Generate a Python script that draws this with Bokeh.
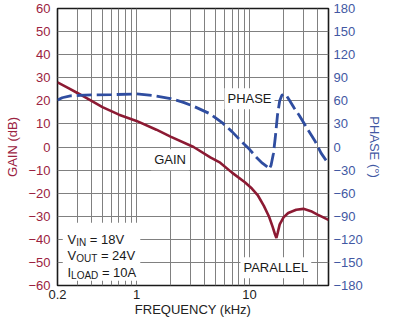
from bokeh.plotting import figure
from bokeh.models import (Range1d, LinearAxis, FixedTicker, CustomJSTickFormatter,
                          Label, BoxAnnotation)
from bokeh.embed import file_html
from bokeh.resources import INLINE

# ---- data ----
gain_freq = [0.2, 0.25, 0.3, 0.4, 0.5, 0.7, 1.0, 1.5, 2.0, 3.2, 4.5, 5.5, 7.0, 9.1, 10.5,
             11.8, 13.4, 14.9, 16.0, 16.8, 17.3, 17.8, 18.5, 20.0, 22.0, 25.9, 30.0, 35.0,
             40.0, 50.0]
gain_db = [28, 25.5, 23.4, 20, 17.3, 14, 11.3, 7.5, 4.5, 0, -4.5, -6.8, -11.1, -15.3, -18,
           -20.8, -25.5, -30.2, -34.5, -37.8, -39.4, -37, -33.5, -30.5, -28.6, -27.2, -26.8,
           -27.8, -29.3, -31.6]

phase_freq = [0.2, 0.22, 0.26, 0.35, 0.6, 1.0, 1.4, 2.0, 2.6, 3.2, 4.5, 5.8, 7.0, 8.5, 10.0,
              11.6, 13.0, 14.4, 14.9, 15.5, 16.3, 16.9, 17.7, 18.5, 19.3, 20.2, 21.2, 22.5,
              25.0, 27.6, 33.0, 38.2, 43.0, 50.0]
phase_deg = [61, 64, 66.5, 67.5, 68, 69, 67, 63, 58, 53, 43, 31, 20, 7, -3,
             -14, -21, -26, -29, -24, -8, 12, 42, 60, 67, 69, 67, 61,
             50, 41, 22, 7, -8, -22]

x_tick_labels = [0.2, 1, 10]
x_grid = [0.2, 0.3, 0.4, 0.5, 0.6, 0.7, 0.8, 0.9, 1, 2, 3, 4, 5, 6, 7, 8, 9, 10, 20, 30, 40, 50]
gain_ticks = list(range(-60, 61, 10))
phase_ticks = list(range(-180, 181, 30))
X_MIN, X_MAX = 0.2, 50
G_MIN, G_MAX = -60, 60

FONT = "Liberation Sans"
RED = "#8c1a33"
RED_TXT = "#9b2240"
BLUE = "#2f4da0"
BLUE_TXT = "#4258a3"
GRID = "#808080"
INK = "#1a1a1a"

p = figure(width=384, height=319, x_axis_type="log",
           x_range=Range1d(X_MIN, X_MAX), y_range=Range1d(G_MIN, G_MAX),
           output_backend="svg", toolbar_location=None,
           min_border_left=57, min_border_right=50, min_border_top=8, min_border_bottom=34)
p.background_fill_color = "white"
p.border_fill_color = "white"
p.outline_line_color = INK
p.outline_line_width = 1.6

neg_code = "return tick < 0 ? '\\u2212' + (-tick) : '' + tick;"

xa = p.xaxis[0]
xa.ticker = FixedTicker(ticks=x_tick_labels)
xa.formatter = CustomJSTickFormatter(code="return tick.toString();")
xa.axis_label = "FREQUENCY (kHz)"
xa.major_label_standoff = 4
xa.axis_label_standoff = 0
xa.major_label_text_color = "#222222"
xa.axis_label_text_color = "#222222"

ya = p.yaxis[0]
ya.ticker = FixedTicker(ticks=gain_ticks)
ya.formatter = CustomJSTickFormatter(code=neg_code)
ya.axis_label = "GAIN (dB)"
ya.major_label_standoff = 7
ya.axis_label_standoff = 5
ya.major_label_text_color = RED_TXT
ya.axis_label_text_color = RED_TXT

p.extra_y_ranges = {"phase": Range1d(-180, 180)}
ra = LinearAxis(y_range_name="phase", ticker=FixedTicker(ticks=phase_ticks),
                formatter=CustomJSTickFormatter(code=neg_code),
                axis_label="PHASE (°)")
ra.major_label_standoff = 5
ra.axis_label_standoff = 1
ra.major_label_text_color = BLUE_TXT
ra.axis_label_text_color = BLUE_TXT
p.add_layout(ra, "right")

for ax in [xa, ya, ra]:
    ax.axis_line_color = None
    ax.major_tick_line_color = None
    ax.minor_tick_line_color = None
    ax.major_tick_out = 0
    ax.major_tick_in = 0
    ax.minor_tick_out = 0
    ax.minor_tick_in = 0
    ax.major_label_text_font = FONT
    ax.major_label_text_font_size = "13px"
    ax.axis_label_text_font = FONT
    ax.axis_label_text_font_size = "13px"
    ax.axis_label_text_font_style = "normal"

p.xgrid.ticker = FixedTicker(ticks=x_grid)
p.xgrid.grid_line_color = GRID
p.xgrid.grid_line_width = 1
p.ygrid.ticker = FixedTicker(ticks=gain_ticks)
p.ygrid.grid_line_color = GRID
p.ygrid.grid_line_width = 1

# curves
p.line(gain_freq, gain_db, line_color=RED, line_width=2.6)
p.line(phase_freq, phase_deg, y_range_name="phase", line_color=BLUE, line_width=2.8,
       line_dash="15 5")

# white area behind the condition text
p.add_layout(BoxAnnotation(left=0.2226, right=1.08, top=-32.8, bottom=-57.9,
                           fill_color="white", fill_alpha=1.0, line_color=None))

def lab(x, y, text, size="13px", xo=0, yo=0, align="left", baseline="alphabetic",
        bg=None, color=INK):
    kw = dict(x=x, y=y, text=text, x_offset=xo, y_offset=yo, text_font=FONT,
              text_font_size=size, text_color=color, text_align=align,
              text_baseline=baseline)
    if bg:
        kw.update(background_fill_color=bg, background_fill_alpha=1.0, padding=3)
    p.add_layout(Label(**kw))

# curve labels
lab(1.98, -5.5, "GAIN", align="center", baseline="middle", bg="white")
lab(10.0, 20.9, "PHASE", align="center", baseline="middle", bg="white")
lab(17.1, -52.3, "PARALLEL", align="center", baseline="middle", bg="white")

# condition text with subscripts
lab(X_MIN, -40.0, "V", xo=10)
lab(X_MIN, -40.0, "IN", size="10px", xo=18.7, yo=-3)
lab(X_MIN, -40.0, "= 18V", xo=32.3)
lab(X_MIN, -47.2, "V", xo=10)
lab(X_MIN, -47.2, "OUT", size="10px", xo=18.7, yo=-3)
lab(X_MIN, -47.2, "= 24V", xo=43.4)
lab(X_MIN, -54.5, "I", xo=10)
lab(X_MIN, -54.5, "LOAD", size="10px", xo=13.6, yo=-3)
lab(X_MIN, -54.5, "= 10A", xo=44.4)

open("out.html", "w").write(file_html(p, INLINE))
